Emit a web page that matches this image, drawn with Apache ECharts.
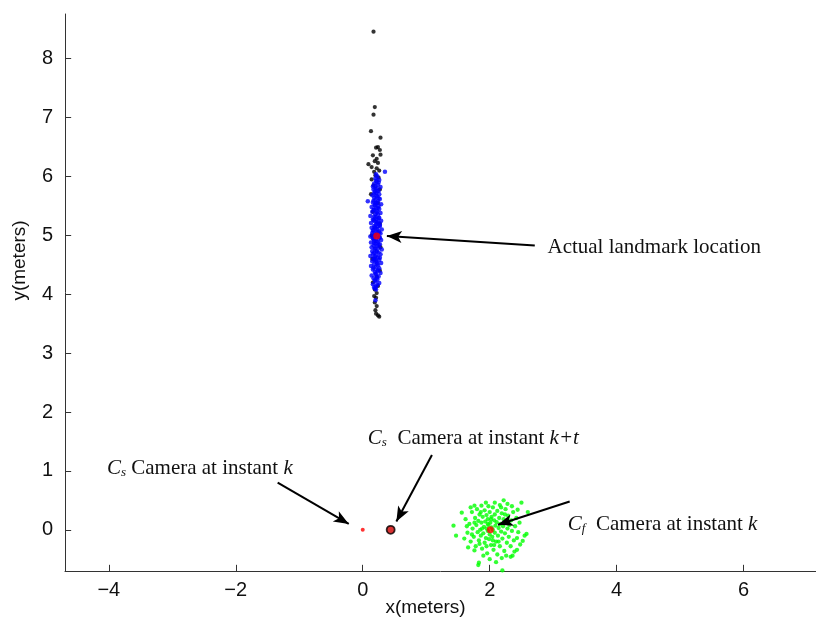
<!DOCTYPE html>
<html><head><meta charset="utf-8">
<script src="https://cdn.jsdelivr.net/npm/echarts@6/dist/echarts.min.js"></script>
<style>html,body{margin:0;padding:0;background:#fff}#c{width:816px;height:618px}</style>
</head><body><div id="c"></div>
<script>
const xTicks = [-4, -2, 0, 2, 4, 6];
const yTicks = [0, 1, 2, 3, 4, 5, 6, 7, 8];

const blackPts = [[0.17,8.46],[0.19,7.18],[0.17,7.05],[0.13,6.77],[0.28,6.66],[0.21,6.49],[0.24,6.50],[0.27,6.45],[0.16,6.36],[0.28,6.37],[0.22,6.30],[0.09,6.21],[0.19,6.26],[0.24,6.23],[0.14,6.16],[0.22,6.14],[0.26,6.10],[0.18,6.08],[0.20,6.02],[0.14,5.95],[0.25,5.98],[0.17,5.85],[0.27,5.78],[0.13,5.70],[0.24,5.55],[0.16,5.40],[0.27,5.20],[0.14,5.00],[0.28,4.80],[0.15,4.60],[0.27,4.40],[0.22,4.30],[0.16,4.20],[0.24,4.14],[0.19,4.08],[0.22,4.02],[0.18,3.97],[0.21,3.94],[0.19,3.86],[0.22,3.80],[0.20,3.73],[0.21,3.67],[0.24,3.64],[0.26,3.62]];

const bluePts = [[0.20,3.90],[0.19,4.10],[0.21,4.13],[0.16,4.17],[0.26,4.19],[0.20,4.22],[0.23,4.25],[0.17,4.27],[0.25,4.30],[0.14,4.32],[0.21,4.34],[0.28,4.36],[0.19,4.38],[0.23,4.40],[0.16,4.42],[0.26,4.44],[0.20,4.46],[0.13,4.48],[0.24,4.49],[0.18,4.51],[0.29,4.53],[0.22,4.54],[0.15,4.56],[0.26,4.58],[0.20,4.60],[0.17,4.61],[0.24,4.63],[0.12,4.65],[0.21,4.66],[0.28,4.68],[0.18,4.70],[0.25,4.71],[0.15,4.73],[0.22,4.74],[0.30,4.76],[0.19,4.77],[0.26,4.79],[0.14,4.80],[0.23,4.82],[0.17,4.83],[0.27,4.85],[0.20,4.86],[0.13,4.88],[0.24,4.89],[0.18,4.91],[0.29,4.92],[0.21,4.94],[0.16,4.95],[0.26,4.97],[0.12,4.98],[0.23,5.00],[0.19,5.01],[0.28,5.03],[0.15,5.04],[0.22,5.06],[0.25,5.07],[0.17,5.09],[0.30,5.10],[0.20,5.12],[0.14,5.13],[0.24,5.15],[0.18,5.16],[0.27,5.18],[0.21,5.19],[0.13,5.21],[0.25,5.22],[0.19,5.24],[0.29,5.25],[0.16,5.27],[0.22,5.28],[0.26,5.30],[0.18,5.32],[0.12,5.33],[0.24,5.35],[0.20,5.36],[0.28,5.38],[0.15,5.40],[0.23,5.41],[0.17,5.43],[0.26,5.45],[0.21,5.46],[0.14,5.48],[0.25,5.50],[0.19,5.51],[0.29,5.53],[0.22,5.55],[0.16,5.56],[0.08,5.58],[0.24,5.58],[0.20,5.60],[0.27,5.62],[0.18,5.64],[0.23,5.66],[0.15,5.68],[0.26,5.70],[0.21,5.72],[0.19,5.74],[0.25,5.76],[0.17,5.78],[0.22,5.80],[0.28,5.82],[0.20,5.84],[0.24,5.86],[0.18,5.88],[0.22,5.91],[0.26,5.94],[0.20,5.97],[0.23,6.00],[0.35,6.08],[0.21,6.04],[0.19,5.52],[0.23,5.20],[0.17,4.94],[0.18,4.12],[0.22,4.28],[0.20,4.35],[0.17,4.45],[0.23,4.52],[0.21,4.57],[0.19,4.64],[0.27,4.62],[0.16,4.69],[0.22,4.72],[0.20,4.78],[0.25,4.84],[0.18,4.87],[0.22,4.90],[0.27,4.96],[0.18,4.99],[0.21,5.03],[0.26,5.05],[0.16,5.08],[0.23,5.11],[0.19,5.14],[0.27,5.16],[0.22,5.23],[0.17,5.26],[0.25,5.29],[0.20,5.31],[0.22,5.39],[0.18,5.44],[0.24,5.47],[0.21,5.54],[0.17,5.59],[0.25,5.63],[0.21,5.67],[0.18,5.71],[0.23,5.75],[0.20,5.79],[0.16,5.83],[0.25,5.90],[0.21,5.93],[0.18,4.58],[0.24,4.41],[0.19,4.24],[0.23,4.16],[0.21,4.08]];

const greenPts = [[1.43,0.07],[1.47,-0.10],[1.56,0.29],[1.76,0.41],[1.87,0.41],[2.16,0.42],[2.22,0.50],[2.50,0.46],[2.60,0.30],[2.58,-0.07],[2.55,-0.10],[2.52,-0.19],[2.43,-0.14],[2.43,-0.34],[2.39,-0.37],[2.33,-0.46],[2.19,-0.48],[1.83,-0.56],[1.76,-0.35],[2.20,-0.69],[1.82,-0.60],[1.62,0.18],[1.65,-0.05],[1.68,0.10],[1.70,-0.20],[1.72,0.30],[1.73,0.02],[1.75,-0.12],[1.77,0.20],[1.78,-0.28],[1.79,0.08],[1.80,0.35],[1.81,-0.04],[1.82,0.15],[1.83,-0.18],[1.84,0.26],[1.85,0.00],[1.86,-0.10],[1.87,0.12],[1.88,-0.32],[1.89,0.22],[1.90,-0.06],[1.91,0.05],[1.92,0.33],[1.92,-0.22],[1.93,0.14],[1.94,-0.14],[1.95,0.02],[1.95,0.25],[1.96,-0.40],[1.97,-0.02],[1.97,0.18],[1.98,0.08],[1.99,-0.16],[2.00,0.30],[2.00,-0.08],[2.01,0.12],[2.02,-0.26],[2.03,0.04],[2.03,0.22],[2.04,-0.12],[2.05,0.38],[2.05,0.00],[2.06,-0.34],[2.07,0.16],[2.08,-0.05],[2.08,0.26],[2.09,0.07],[2.10,-0.20],[2.11,0.13],[2.12,-0.42],[2.12,0.32],[2.13,-0.10],[2.14,0.03],[2.15,0.20],[2.16,-0.28],[2.17,0.10],[2.18,-0.03],[2.19,0.28],[2.20,-0.15],[2.21,0.06],[2.22,0.18],[2.23,-0.36],[2.24,-0.06],[2.25,0.35],[2.26,0.12],[2.27,-0.22],[2.28,0.02],[2.29,0.24],[2.30,-0.12],[2.31,0.08],[2.33,-0.28],[2.34,0.16],[2.35,-0.02],[2.37,0.30],[2.38,-0.18],[2.40,0.06],[2.42,0.20],[2.45,-0.04],[2.47,0.12],[2.48,-0.25],[2.35,0.40],[2.28,0.44],[2.08,0.46],[1.98,0.40],[1.70,0.38],[1.60,-0.15],[1.66,-0.30],[1.90,-0.44],[2.00,-0.50],[2.10,-0.55],[1.95,-0.28],[2.05,-0.18],[1.88,0.02],[2.02,0.18],[2.14,-0.20],[1.97,0.10],[2.07,-0.26],[1.84,-0.24],[2.24,0.26],[1.76,0.12],[1.72,-0.08],[2.30,0.14],[2.18,0.38],[1.94,0.46],[2.36,-0.44],[1.86,0.30],[2.26,-0.44],[2.44,0.34],[1.64,0.06]];

const landmark = [0.22, 4.99];
const camSk = [0.0, 0.0];
const camSkt = [0.44, 0.0];
const camFk = [2.01, 0.0];

const arrows = [
  [[2.71, 4.83], [0.38, 4.99]],
  [[1.09, 1.27], [0.53, 0.14]],
  [[-1.34, 0.80], [-0.22, 0.10]],
  [[3.26, 0.48], [2.13, 0.085]]
];
const labels = [
  {pos: [2.91, 4.79], text: 'Actual landmark location'},
  {pos: [0.08, 1.55], text: '{i|C}{s|s}  Camera at instant {i|k+t}'},
  {pos: [-4.03, 1.04], text: '{i|C}{s|s} Camera at instant {i|k}'},
  {pos: [3.23, 0.09], text: '{i|C}{s|f}  Camera at instant {i|k}'}
];

const X_MIN = -4.69, X_MAX = 7.14, Y_MIN = -0.70, Y_MAX = 8.76;
const serif = 'Liberation Serif';
const axisColor = '#333';

const tickLines = [];
xTicks.forEach(v => tickLines.push([{coord: [v, Y_MIN]}, {coord: [v, Y_MIN + 0.105]}]));
yTicks.forEach(v => tickLines.push([{coord: [X_MIN, v]}, {coord: [X_MIN + 0.097, v]}]));

const chart = echarts.init(document.getElementById('c'), null, {renderer: 'canvas'});
chart.setOption({
  animation: false,
  backgroundColor: '#fff',
  grid: {left: 65, right: 0, top: 14, bottom: 47, containLabel: false, outerBoundsMode: 'none'},
  xAxis: {
    type: 'value', min: X_MIN, max: X_MAX,
    name: 'x(meters)', nameLocation: 'middle', nameGap: 37, nameMoveOverlap: false,
    nameTextStyle: {fontFamily: 'Liberation Sans', fontSize: 19, color: '#111', verticalAlign: 'middle', padding: [0, 30, 0, 0]},
    axisLine: {show: true, onZero: false, lineStyle: {color: axisColor, width: 1}},
    axisTick: {show: false},
    axisLabel: {fontFamily: 'Liberation Sans', fontSize: 20, color: '#111', margin: 9,
      customValues: xTicks, formatter: v => (v < 0 ? '\u2212' + (-v) : '' + v)},
    splitLine: {show: false}
  },
  yAxis: {
    type: 'value', min: Y_MIN, max: Y_MAX,
    name: 'y(meters)', nameLocation: 'middle', nameGap: 45, nameMoveOverlap: false,
    nameTextStyle: {fontFamily: 'Liberation Sans', fontSize: 19, color: '#111', verticalAlign: 'middle', padding: [0, 0, 0, 64]},
    axisLine: {show: true, onZero: false, lineStyle: {color: axisColor, width: 1}},
    axisTick: {show: false},
    axisLabel: {fontFamily: 'Liberation Sans', fontSize: 20, color: '#111', margin: 12,
      customValues: yTicks},
    splitLine: {show: false}
  },
  series: [
    {type: 'scatter', name: 'ticks', data: [], silent: true, z: 1,
      markLine: {silent: true, animation: false, symbol: ['none', 'none'],
        lineStyle: {color: axisColor, width: 1, type: 'solid'}, label: {show: false},
        data: tickLines}},
    {type: 'scatter', name: 'black', data: blackPts, symbolSize: 4.2, itemStyle: {color: '#000'}, z: 2},
    {type: 'scatter', name: 'blue', data: bluePts, symbolSize: 4.5, itemStyle: {color: '#0000ff'}, z: 3},
    {type: 'scatter', name: 'green', data: greenPts, symbolSize: 4.3, itemStyle: {color: '#00ff00'}, z: 4},
    {type: 'scatter', name: 'cams', z: 5,
      data: [
        {value: landmark, symbolSize: 7, itemStyle: {color: '#ff0000'}},
        {value: camSk, symbolSize: 4, itemStyle: {color: '#ff0000'}},
        {value: camSkt, symbolSize: 8, itemStyle: {color: '#d00000', borderColor: '#000', borderWidth: 1.8}},
        {value: camFk, symbolSize: 7, itemStyle: {color: '#ff0000'}}
      ],
      markLine: {
        silent: true, animation: false,
        symbol: ['none', 'arrow'], symbolSize: [9, 15],
        lineStyle: {color: '#000', width: 2, type: 'solid'},
        label: {show: false},
        data: arrows.map(a => [{coord: a[0]}, {coord: a[1]}])
      },
      markPoint: {
        silent: true, animation: false,
        symbol: 'rect', symbolSize: 0,
        data: labels.map(l => ({coord: l.pos, value: 0,
          label: {show: true, position: 'inside', align: 'left', verticalAlign: 'middle',
            formatter: l.text,
            fontFamily: serif, fontSize: 21, color: '#111',
            rich: {
              i: {fontFamily: serif, fontSize: 21, fontStyle: 'italic', color: '#111'},
              s: {fontFamily: serif, fontSize: 13, fontStyle: 'italic', color: '#111', padding: [9, 0, 0, 0]}
            }
          }}))
      }
    }
  ]
});
</script></body></html>
